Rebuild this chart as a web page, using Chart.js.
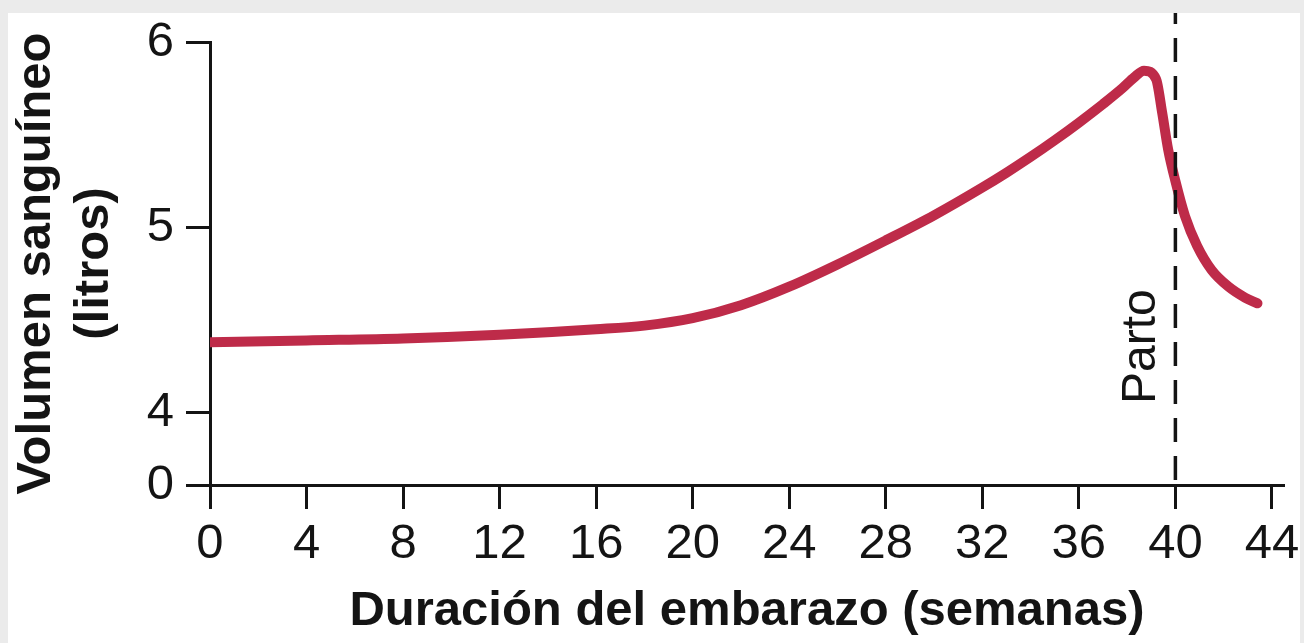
<!DOCTYPE html>
<html>
<head>
<meta charset="utf-8">
<script src="https://cdn.jsdelivr.net/npm/chart.js@4.4.1/dist/chart.umd.min.js"></script>
<style>
html,body{margin:0;padding:0;background:#ebebeb;width:1304px;height:643px;overflow:hidden;}
#frame{position:absolute;left:8px;top:13px;width:1292px;height:630px;background:#ffffff;}
canvas{display:block;}
</style>
</head>
<body>
<div id="frame"><canvas id="c" width="1292" height="630"></canvas></div>
<script>
// ---- data ----
const weeks        = [0, 4, 8, 12, 16, 18, 20, 22, 24, 26, 28, 30, 32, 33, 34, 35, 36, 37, 37.8, 38.3, 38.7, 39.2, 39.45, 39.7, 40.0, 40.4, 40.9, 41.5, 42.2, 42.9, 43.4];
const bloodVolume  = [4.38, 4.39, 4.40, 4.42, 4.45, 4.47, 4.51, 4.58, 4.68, 4.80, 4.93, 5.065, 5.215, 5.295, 5.38, 5.47, 5.565, 5.665, 5.75, 5.81, 5.845, 5.80, 5.62, 5.42, 5.25, 5.06, 4.90, 4.77, 4.68, 4.62, 4.59];
const xTickLabels  = [0, 4, 8, 12, 16, 20, 24, 28, 32, 36, 40, 44];
const yTickLabels  = ['0', '4', '5', '6'];
const yTickValues  = [0, 4, 5, 6];
const partoWeek    = 40;
const partoLabel   = 'Parto';
const xTitle       = 'Duración del embarazo (semanas)';
const yTitle       = ['Volumen sanguíneo', '(litros)'];

// broken y axis: the "0" tick sits just below 4
const Y_BREAK = 3.61;
const FONT = '"Liberation Sans", Arial, Helvetica, sans-serif';
const INK = '#141414';
const RED = 'rgb(190, 43, 73)';

const partoPlugin = {
  id: 'parto',
  afterDatasetsDraw(chart) {
    const {ctx, chartArea, scales: {x}} = chart;
    const px = x.getPixelForValue(partoWeek);
    ctx.save();
    ctx.strokeStyle = INK;
    ctx.lineWidth = 3.5;
    ctx.setLineDash([24, 14]);
    ctx.lineDashOffset = 13;
    ctx.beginPath();
    ctx.moveTo(px, 0);
    ctx.lineTo(px, chartArea.bottom);
    ctx.stroke();
    ctx.setLineDash([]);
    ctx.translate(px - 34, 391);
    ctx.rotate(-Math.PI / 2);
    ctx.font = '48px ' + FONT;
    ctx.textAlign = 'left';
    ctx.textBaseline = 'middle';
    ctx.fillStyle = INK;
    ctx.fillText(partoLabel, 0, 0);
    ctx.restore();
  }
};

new Chart(document.getElementById('c'), {
  type: 'line',
  data: {
    datasets: [{
      data: weeks.map((w, i) => ({x: w, y: bloodVolume[i]})),
      borderColor: RED,
      borderWidth: 10,
      borderCapStyle: 'round',
      borderJoinStyle: 'round',
      pointRadius: 0,
      fill: false,
      cubicInterpolationMode: 'monotone'
    }]
  },
  options: {
    responsive: false,
    animation: false,
    devicePixelRatio: 1,
    layout: {padding: {left: 0, right: 16, top: 29, bottom: 0}},
    plugins: {legend: {display: false}, tooltip: {enabled: false}},
    scales: {
      x: {
        type: 'linear',
        min: 0,
        max: 44.5,
        afterBuildTicks: s => { s.ticks = xTickLabels.map(v => ({value: v})); },
        afterFit: s => { s.height = 158; s.paddingLeft = 0; s.paddingRight = 0; },
        ticks: {
          autoSkip: false, maxRotation: 0, padding: 6, color: INK,
          font: {family: FONT, size: 49},
          callback: v => String(v)
        },
        grid: {drawOnChartArea: false, drawTicks: true, tickLength: 24, tickWidth: 3, tickColor: INK},
        border: {display: true, color: INK, width: 3},
        title: {
          display: true, text: xTitle, color: INK,
          font: {family: FONT, size: 49, weight: 'bold', lineHeight: 1.2},
          padding: {top: 0, bottom: 2}
        }
      },
      y: {
        type: 'linear',
        min: Y_BREAK,
        max: 6,
        afterBuildTicks: s => { s.ticks = yTickValues.map(v => ({value: v === 0 ? Y_BREAK : v})); },
        afterFit: s => { s.width = 202; s.paddingTop = 0; s.paddingBottom = 0; },
        ticks: {
          padding: 12, color: INK,
          font: {family: FONT, size: 49},
          callback: (v, i) => yTickLabels[i]
        },
        grid: {drawOnChartArea: false, drawTicks: true, tickLength: 24, tickWidth: 3, tickColor: INK},
        border: {display: true, color: INK, width: 3},
        title: {
          display: true, text: yTitle, color: INK,
          font: {family: FONT, size: 49, weight: 'bold', lineHeight: 1.17},
          padding: {top: 0, bottom: 0}
        }
      }
    }
  },
  plugins: [partoPlugin]
});
</script>
</body>
</html>
